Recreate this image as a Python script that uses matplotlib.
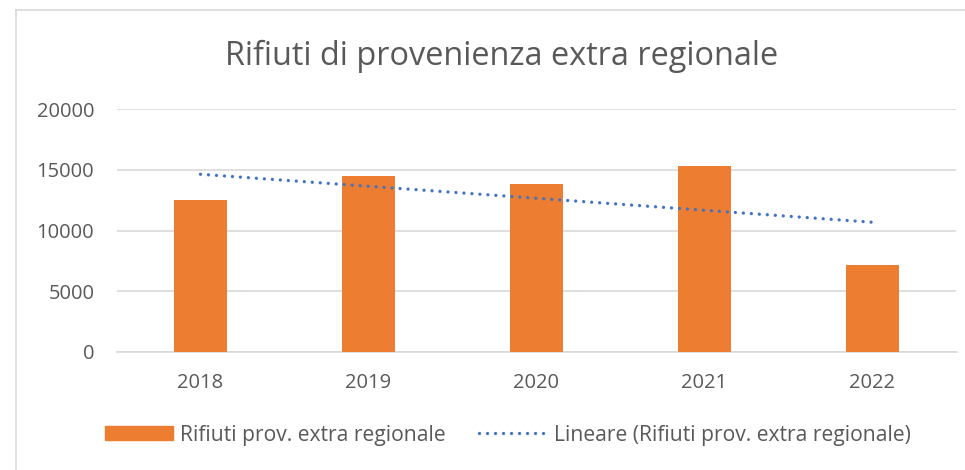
import numpy as np
import matplotlib
matplotlib.use("Agg")
import matplotlib.pyplot as plt
from matplotlib.lines import Line2D

# Data
years = ["2018", "2019", "2020", "2021", "2022"]
values = [12500, 14500, 13850, 15300, 7150]
y_ticks = [0, 5000, 10000, 15000, 20000]
title = "Rifiuti di provenienza extra regionale"
bar_label = "Rifiuti prov. extra regionale"
trend_label = "Lineare (Rifiuti prov. extra regionale)"

BAR_COLOR = "#ED7D31"
TREND_COLOR = "#4472C4"
TEXT_COLOR = "#595959"
GRID_COLOR = "#D9D9D9"

plt.rcParams["font.family"] = ["Open Sans", "DejaVu Sans"]

W, H = 965, 470
fig = plt.figure(figsize=(W / 100, H / 100), dpi=100)
fig.patch.set_facecolor("white")

left, right = 116.5, 956.5
top, bottom = 109.3, 351.7
ax = fig.add_axes([left / W, 1 - bottom / H, (right - left) / W, (bottom - top) / H])

x = np.arange(len(years))
ax.bar(x, values, width=0.315, color=BAR_COLOR, zorder=3, label=bar_label)

# linear trend line from data
coef = np.polyfit(x, values, 1)
trend = np.polyval(coef, x)
lw = 2.4
ax.plot(x, trend, color=TREND_COLOR, linewidth=lw,
        linestyle=(0, (0.001, 2.4)), dash_capstyle="round", zorder=4,
        label=trend_label)

ax.set_xlim(-0.5, len(years) - 0.5)
ax.set_ylim(0, 20000)
ax.set_yticks(y_ticks)
ax.set_yticklabels([str(v) for v in y_ticks])
ax.set_xticks(x)
ax.set_xticklabels(years)
ax.tick_params(axis="both", length=0, labelsize=14.5, colors=TEXT_COLOR)
ax.tick_params(axis="y", pad=16)
ax.tick_params(axis="x", pad=15.5)
ax.yaxis.grid(True, color=GRID_COLOR, linewidth=1.2, zorder=0)
ax.set_axisbelow(True)
for s in ["top", "right", "left"]:
    ax.spines[s].set_visible(False)
ax.spines["bottom"].set_color(GRID_COLOR)
ax.spines["bottom"].set_linewidth(1.2)

fig.text(502 / W, 1 - 56 / H, title, ha="center", va="center",
         fontsize=23.4, color=TEXT_COLOR)

handles = [
    plt.Rectangle((0, 0), 1, 1, color=BAR_COLOR),
    Line2D([0], [0], color=TREND_COLOR, linewidth=lw,
           linestyle=(0, (0.001, 2.4)), dash_capstyle="round"),
]
fig.legend(handles, [bar_label, trend_label], loc="center",
           bbox_to_anchor=(508 / W, 1 - 435 / H), ncol=2, frameon=False,
           fontsize=15.2, labelcolor=TEXT_COLOR, handlelength=3.2,
           handleheight=0.66, handletextpad=0.33, columnspacing=1.6)

# chart border (top & left)
fig.add_artist(Line2D([16 / W, 16 / W], [0, 1 - 10 / H], color=GRID_COLOR,
                      linewidth=1.2, transform=fig.transFigure))
fig.add_artist(Line2D([16 / W, 1], [1 - 10 / H, 1 - 10 / H], color=GRID_COLOR,
                      linewidth=1.2, transform=fig.transFigure))

fig.savefig("out.png", dpi=100, facecolor="white")
